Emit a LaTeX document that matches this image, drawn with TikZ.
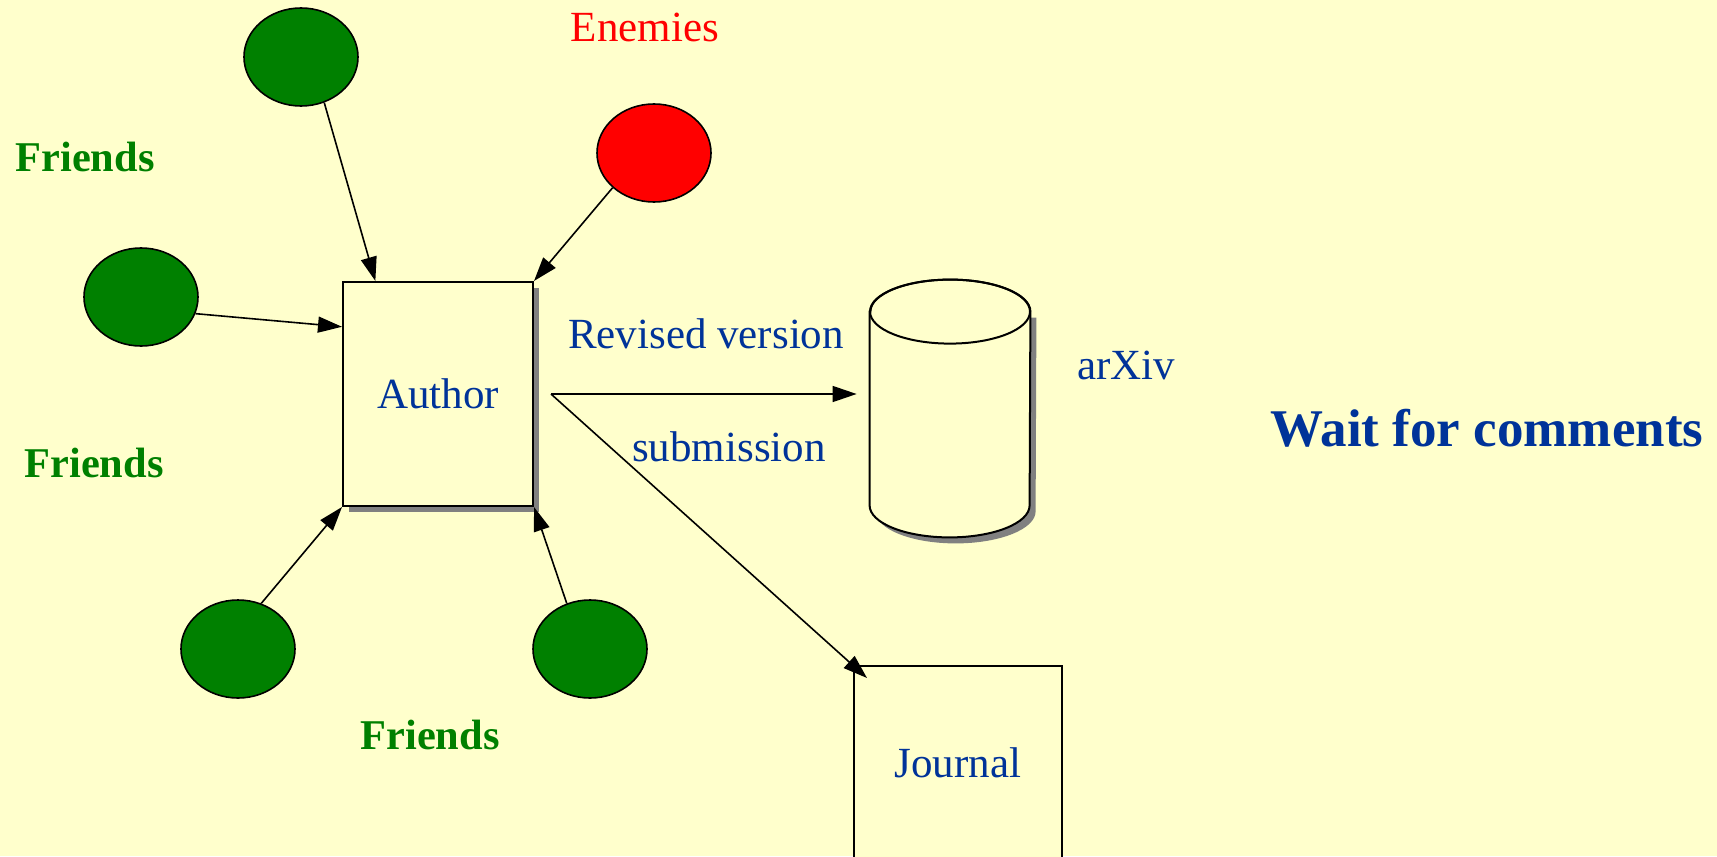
\documentclass[tikz,border=0pt]{standalone}
\usepackage{fontspec}
\setmainfont{Liberation Serif}
\usetikzlibrary{arrows.meta}
\usetikzlibrary{shapes.geometric}
\usetikzlibrary{shadows}
\usetikzlibrary{calc}

\definecolor{paper}{RGB}{255,255,204}
\definecolor{friendgreen}{RGB}{0,128,0}
\definecolor{labelblue}{RGB}{0,51,153}

\begin{document}
\begin{tikzpicture}[x=0.5pt, y=-0.5pt,
    person/.style={ellipse, draw, line width=0.8pt, minimum width=57pt, minimum height=49pt, inner sep=0pt},
    friend/.style={person, fill=friendgreen},
    enemy/.style={person, fill=red},
    box/.style={rectangle, draw, line width=1pt, fill=paper, text=labelblue, inner sep=0pt,
                font=\fontsize{21.5}{26}\selectfont},
    boxshadow/.style={drop shadow={shadow xshift=3pt, shadow yshift=-3pt, fill=gray, opacity=1}},
    txt/.style={text=labelblue, font=\fontsize{21.5}{26}\selectfont},
    group/.style={text=friendgreen, font=\fontsize{21.2}{26}\selectfont\bfseries},
    link/.style={-{Triangle[length=12pt,width=8pt]}, line width=0.8pt}]

    % page
    \path[use as bounding box] (0,0) rectangle (1717,856);
    \clip (0,0) rectangle (1717,856);
    \fill[paper] (0,0) rectangle (1717,856);

    % draw boxes
    \node[box, boxshadow, minimum width=95pt, minimum height=112pt] (author) at (438,394) {Author};
    \node[box, minimum width=104pt, minimum height=97pt] (journal) at (958,763) {Journal};

    % draw the archive as a cylinder
    \node[minimum width=80pt, minimum height=128.5pt, inner sep=0pt] (db) at (950,408.5) {};
    \fill[gray] ($(db.north west)+(6,38)$) -- ($(db.south west)+(6,-26)$)
        arc[start angle=180, end angle=0, x radius=80, y radius=32]
        -- ($(db.north east)+(6,38)$) -- cycle;
    \filldraw[fill=paper, line width=1pt] ($(db.north west)+(0,32)$) -- ($(db.south west)+(0,-32)$)
        arc[start angle=180, end angle=0, x radius=80, y radius=32]
        -- ($(db.north east)+(0,32)$)
        arc[start angle=0, end angle=-180, x radius=80, y radius=32] -- cycle;
    \draw[line width=1pt] ($(db.north)+(0,32)$) ellipse[x radius=80, y radius=32];

    % draw friends and enemies
    \node[friend] (f1) at (301,57) {};
    \node[friend] (f2) at (141,297) {};
    \node[friend] (f3) at (238,649) {};
    \node[friend] (f4) at (590,649) {};
    \node[enemy] (foe) at (654,153) {};

    % draw arrows
    \draw[link] (f1.-63) -- (author.119.5);
    \draw[link] (foe.220) -- (author.north east);
    \draw[link] (f2.-17) -- (author.145);
    \draw[link] (f3.63) -- (author.south west);
    \draw[link] (f4.117) -- (author.south east);
    \draw[link] ([xshift=8.5pt]author.east) -- ([xshift=-6.5pt]author.east -| db.west);
    \draw[link] ([xshift=8.5pt]author.east) -- ($(journal.north west)+(14,13)$);

    % draw labels
    \node[text=red, font=\fontsize{21.5}{26}\selectfont] (enemies) at (645,27) {Enemies};
    \node[group] (friends1) at (85,157) {Friends};
    \node[group] (friends2) at (94,463) {Friends};
    \node[group] (friends3) at (430,735) {Friends};
    \node[txt] (revised) at (706,334) {Revised version};
    \node[txt] (submission) at (729,447) {submission};
    \node[txt] (arxiv) at (1126,365) {arXiv};
    \node[text=labelblue, font=\fontsize{26.5}{32}\selectfont\bfseries] (wait) at (1487,428) {Wait for comments};
\end{tikzpicture}
\end{document}
